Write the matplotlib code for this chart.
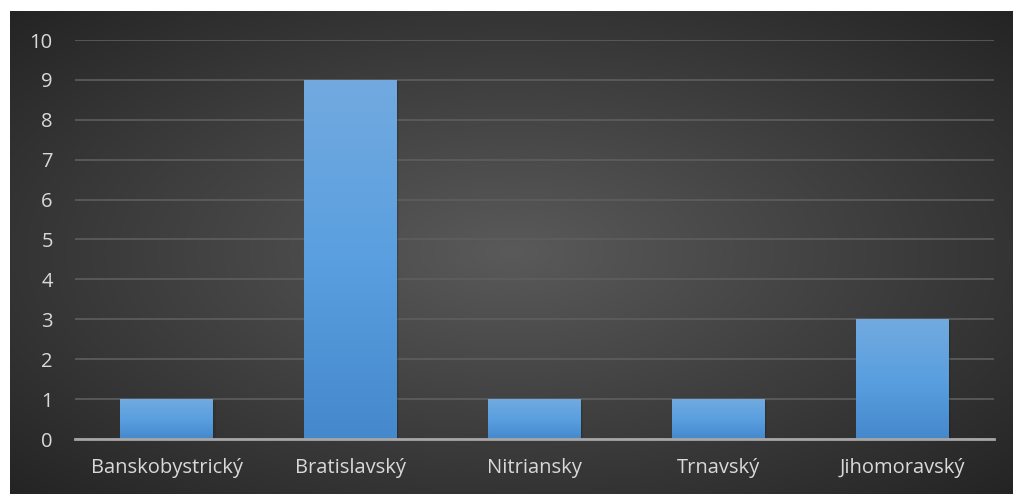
import numpy as np
import matplotlib
matplotlib.use("Agg")
import matplotlib.pyplot as plt
from matplotlib.patches import Rectangle
from matplotlib.colors import LinearSegmentedColormap

categories = ["Banskobystrický", "Bratislavský", "Nitriansky", "Trnavský", "Jihomoravský"]
values = [1, 9, 1, 1, 3]
yticks = list(range(0, 11))

W, H = 1013, 494
fig = plt.figure(figsize=(W / 100, H / 100), dpi=100)
fig.patch.set_facecolor("white")

# background panel with radial gradient
bg = fig.add_axes([10 / W, 0, (W - 10) / W, (H - 11) / H])
bg.set_axis_off()
nx, ny = 400, 200
xx, yy = np.meshgrid(np.linspace(-1, 1, nx), np.linspace(-1, 1, ny))
r = np.sqrt(xx ** 2 + yy ** 2) / np.sqrt(2)
c_in = np.array([0x5a, 0x5a, 0x5a]) / 255
c_out = np.array([0x24, 0x24, 0x24]) / 255
img = c_in[None, None, :] * (1 - r[..., None]) + c_out[None, None, :] * r[..., None]
img = np.clip(img, 0, 1)
bg.imshow(img, aspect="auto", extent=[0, 1, 0, 1], interpolation="bilinear")
bg.set_xlim(0, 1)
bg.set_ylim(0, 1)

ax_left, ax_right = 75, 994
ax_top, ax_bot = 40, 439
ax = fig.add_axes([ax_left / W, (H - ax_bot) / H, (ax_right - ax_left) / W, (ax_bot - ax_top) / H])
ax.set_facecolor("none")
x = np.arange(len(categories))
bars = ax.bar(x, values, width=0.505, color="none", zorder=3)

cmap = LinearSegmentedColormap.from_list("b", ["#4589cc", "#5a9fe0", "#72aadf"])
grad = np.linspace(0, 1, 256).reshape(-1, 1)
for b in bars:
    x0, y0 = b.get_x(), b.get_y()
    w, h = b.get_width(), b.get_height()
    # soft shadow
    for k, a in [(0.006, 0.10), (0.012, 0.06)]:
        sh = Rectangle((x0 + k, y0), w, h - 0.04, facecolor="black", alpha=a,
                       zorder=2.5, linewidth=0)
        ax.add_patch(sh)
    im = ax.imshow(grad, cmap=cmap, aspect="auto", extent=[x0, x0 + w, y0, y0 + h],
                   origin="lower", zorder=3, interpolation="bilinear")
    clip = Rectangle((x0, y0), w, h, transform=ax.transData, facecolor="none", edgecolor="none")
    ax.add_patch(clip)
    im.set_clip_path(clip)

ax.set_xlim(-0.5, len(categories) - 0.5)
ax.set_ylim(0, 10)
ax.set_yticks(yticks)
ax.set_yticklabels([str(t) for t in yticks])
ax.set_xticks(x)
ax.set_xticklabels(categories)
ax.yaxis.grid(True, color="#5e5e5e", linewidth=1.2, zorder=1)
ax.set_axisbelow(True)
for s in ["top", "right", "left"]:
    ax.spines[s].set_visible(False)
ax.spines["bottom"].set_color("#a6a6a6")
ax.spines["bottom"].set_linewidth(2)
ax.spines["bottom"].set_zorder(4)
ax.tick_params(axis="both", length=0, colors="#d9d9d9", labelsize=14.5)
ax.tick_params(axis="y", pad=16)
ax.tick_params(axis="x", pad=14)
for lab in ax.get_xticklabels() + ax.get_yticklabels():
    lab.set_fontfamily("Open Sans")
    lab.set_color("#d9d9d9")
for lab in ax.get_yticklabels():
    lab.set_fontsize(14.5)

fig.savefig("out.png", dpi=100, facecolor="white")
